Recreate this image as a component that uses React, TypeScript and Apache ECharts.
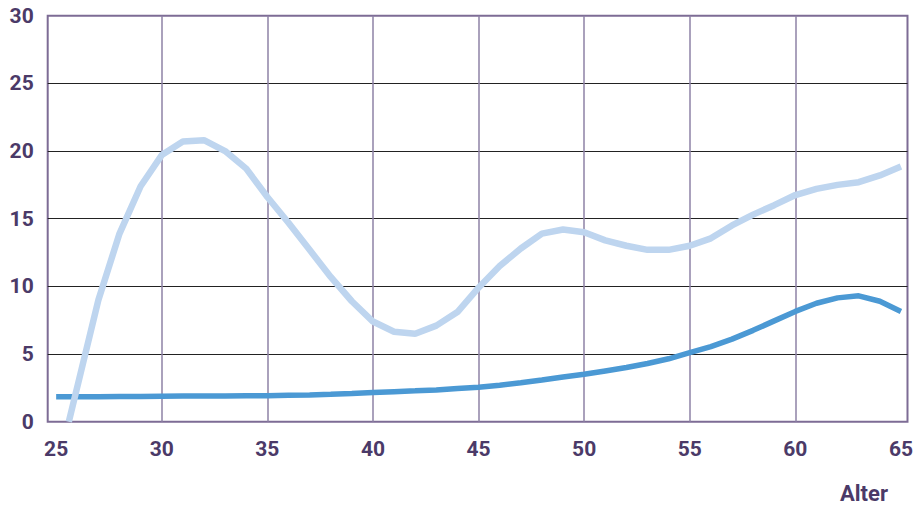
import React, { useEffect, useRef } from "react";
import * as echarts from "echarts";

const ages: number[] = [25,26,27,28,29,30,31,32,33,34,35,36,37,38,39,40,41,42,43,44,45,46,47,48,49,50,51,52,53,54,55,56,57,58,59,60,61,62,63,64,65];
const darkValues: number[] = [1.85,1.85,1.85,1.86,1.87,1.88,1.89,1.9,1.9,1.91,1.92,1.95,1.98,2.02,2.08,2.15,2.22,2.28,2.35,2.45,2.55,2.7,2.88,3.08,3.3,3.5,3.75,4.0,4.3,4.65,5.1,5.55,6.1,6.75,7.45,8.15,8.75,9.15,9.3,8.9,8.15];
const lightAges: number[] = [25.6,27,28,29,30,31,32,33,34,35,36,37,38,39,40,41,42,43,44,45,46,47,48,49,50,51,52,53,54,55,56,57,58,59,60,61,62,63,64,65];
const lightValues: number[] = [0,9.0,13.9,17.4,19.7,20.7,20.8,20.0,18.7,16.6,14.7,12.7,10.7,8.9,7.4,6.65,6.5,7.1,8.1,9.9,11.5,12.8,13.9,14.2,14.0,13.4,13.0,12.7,12.7,13.0,13.55,14.5,15.3,16.0,16.75,17.2,17.5,17.7,18.2,18.85];
const xLabels: number[] = [25,30,35,40,45,50,55,60,65];
const xGridValues: number[] = [30,35,40,45,50,55,60];
const axisTitle = "Alter";

export default function App() {
  const ref = useRef<HTMLDivElement>(null);
  useEffect(() => {
    document.body.style.margin = "0";
    const chart = echarts.init(ref.current!, null, { renderer: "svg" });
    const labelColor = "#4b3a68";
    chart.setOption({
      animation: false,
      grid: {
        left: 47.7,
        right: 8,
        top: 15.7,
        bottom: 85.3,
        show: true,
        borderColor: "#7d6c95",
        borderWidth: 2,
        backgroundColor: "transparent",
      },
      xAxis: {
        type: "value",
        min: 24.6,
        max: 65.31,
        axisLine: { show: false },
        axisTick: { show: false, customValues: xGridValues },
        axisLabel: {
          customValues: xLabels,
          margin: 17,
          color: labelColor,
          fontFamily: "Roboto",
          fontWeight: "bold",
          fontSize: 21,
        },
        splitLine: {
          show: true,
          lineStyle: { color: "#8e82a6", width: 1.5 },
        },
      },
      yAxis: {
        type: "value",
        min: 0,
        max: 30,
        interval: 5,
        axisLine: { show: false },
        axisTick: { show: false },
        axisLabel: {
          margin: 14,
          color: labelColor,
          fontFamily: "Roboto",
          fontWeight: "bold",
          fontSize: 21,
        },
        splitLine: {
          show: true,
          showMinLine: false,
          showMaxLine: false,
          lineStyle: { color: "#222222", width: 1.2 },
        },
      },
      graphic: [
        {
          type: "text",
          right: 28,
          bottom: 3,
          style: {
            text: axisTitle,
            fill: labelColor,
            font: "bold 22px Roboto",
          },
        },
      ],
      series: [
        {
          type: "line",
          symbol: "none",
          data: ages.map((a, i) => [a, darkValues[i]]),
          lineStyle: { color: "#4b99d4", width: 5.5, cap: "butt" },
        },
        {
          type: "line",
          symbol: "none",
          data: lightAges.map((a, i) => [a, lightValues[i]]),
          lineStyle: { color: "#bed5ef", width: 6.5, cap: "butt" },
        },
      ],
    });
    return () => chart.dispose();
  }, []);
  return <div ref={ref} style={{ width: 916, height: 507 }} />;
}
